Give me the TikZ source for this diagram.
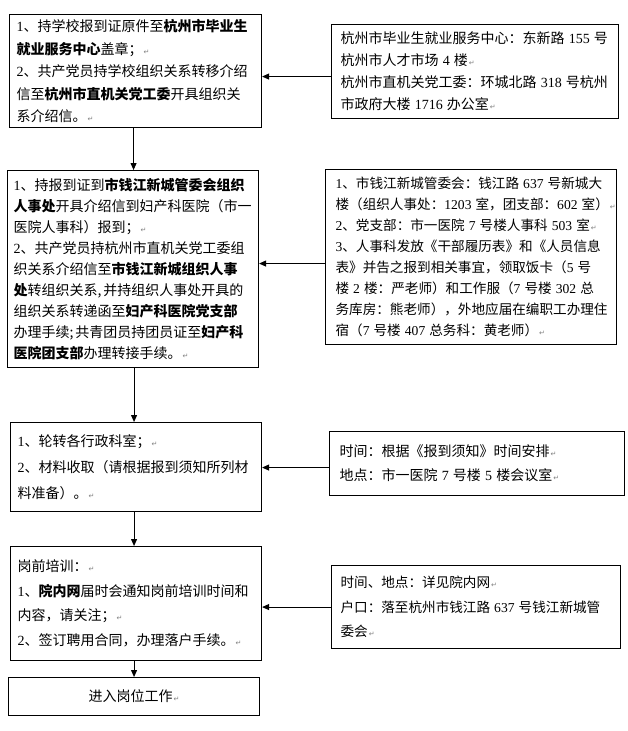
\documentclass[tikz,border=0pt]{standalone}
\usepackage{fontspec}
\setmainfont{Noto Sans CJK SC}
\newfontfamily\latinf{Liberation Serif}
\newfontfamily\symf{DejaVu Sans}
\usetikzlibrary{arrows.meta}
\newcommand\nm[1]{{\latinf #1}}
\newcommand\hs{\kern.3em\relax}
\newcommand\sn[1]{\hs{\latinf #1}\hs}
\newcommand\rmk{{\symf\fontsize{7}{7}\selectfont\color{gray}\kern1pt ↵}}
\tikzset{
  box/.style={draw, line width=1.1pt, anchor=north west, inner xsep=7pt, inner ysep=0pt,
              align=left, font=\fontsize{14}{22}\selectfont},
  arr/.style={line width=0.9pt, -{Triangle[length=7pt,width=6pt]}},
}
\begin{document}
\begin{tikzpicture}[x=1pt,y=-1pt]
\fill[white] (0,0) rectangle (627,731);
\useasboundingbox (0,0) rectangle (627,731);

\node[box, minimum width=252pt, minimum height=113pt, text width=238pt,
      font=\fontsize{14}{22.5}\selectfont] (b1) at (9,14)
{\nm{1}、持学校报到证原件至\textbf{杭州市毕业生}\\
\textbf{就业服务中心}盖章；\rmk\\
\nm{2}、共产党员持学校组织关系转移介绍\\
信至\textbf{杭州市直机关党工委}开具组织关\\
系介绍信。\rmk};

\node[box, minimum width=287pt, minimum height=94pt, inner xsep=9pt, text width=269pt,
      font=\fontsize{14}{22}\selectfont] (r1) at (331,24)
{杭州市毕业生就业服务中心：东新路\sn{155}号\\
杭州市人才市场\sn{4}楼\rmk\\
杭州市直机关党工委：环城北路\sn{318}号杭州\\
市政府大楼\sn{1716}办公室\rmk};

\node[box, minimum width=251pt, minimum height=197pt, inner xsep=6pt, text width=239pt,
      font=\fontsize{14}{21}\selectfont] (b2) at (7,170)
{\nm{1}、持报到证到\textbf{市钱江新城管委会组织}\\
\textbf{人事处}开具介绍信到妇产科医院（市一\\
医院人事科）报到；\rmk\\
\nm{2}、共产党员持杭州市直机关党工委组\\
织关系介绍信至\textbf{市钱江新城组织人事}\\
\textbf{处}转组织关系,\kern2pt 并持组织人事处开具的\\
组织关系转递函至\textbf{妇产科医院党支部}\\
办理手续;\kern2pt 共青团员持团员证至\textbf{妇产科}\\
\textbf{医院团支部}办理转接手续。\rmk};

\node[box, minimum width=291pt, minimum height=175pt, inner xsep=10pt, text width=271pt,
      font=\fontsize{13.6}{21}\selectfont] (r2) at (325,169)
{\nm{1}、市钱江新城管委会：钱江路\sn{637}号新城大\\
楼（组织人事处：\nm{1203}\hs 室，团支部：\nm{602}\hs 室）\rmk\\
\nm{2}、党支部：市一医院\sn{7}号楼人事科\sn{503}室\rmk\\
\nm{3}、人事科发放《干部履历表》和《人员信息\\
表》并告之报到相关事宜，领取饭卡（\nm{5}\hs 号\\
楼\sn{2}楼：严老师）和工作服（\nm{7}\hs 号楼\sn{302}总\\
务库房：熊老师），外地应届在编职工办理住\\
宿（\nm{7}\hs 号楼\sn{407}总务科：黄老师）\rmk};

\node[box, minimum width=251pt, minimum height=89pt, text width=237pt,
      font=\fontsize{14}{26}\selectfont] (b3) at (10,422)
{\nm{1}、轮转各行政科室；\rmk\\
\nm{2}、材料收取（请根据报到须知所列材\\
料准备）。\rmk};

\node[box, minimum width=295pt, minimum height=64pt, inner xsep=10pt, text width=275pt,
      font=\fontsize{14}{24}\selectfont] (r3) at (329,431)
{时间：根据《报到须知》时间安排\rmk\\
地点：市一医院\sn{7}号楼\sn{5}楼会议室\rmk};

\node[box, minimum width=251pt, minimum height=114pt, text width=237pt,
      font=\fontsize{14}{24.5}\selectfont] (b4) at (10,546)
{岗前培训：\rmk\\
\nm{1}、\textbf{院内网}届时会通知岗前培训时间和\\
内容，请关注；\rmk\\
\nm{2}、签订聘用合同，办理落户手续。\rmk};

\node[box, minimum width=289pt, minimum height=83pt, inner xsep=9pt, text width=271pt,
      font=\fontsize{13.6}{24.5}\selectfont] (r4) at (331,565)
{时间、地点：详见院内网\rmk\\
户口：落至杭州市钱江路\sn{637}号钱江新城管\\
委会\rmk};

\node[box, minimum width=251pt, minimum height=38pt, text width=237pt, align=center,
      font=\fontsize{14}{22}\selectfont] (b5) at (8,677)
{进入岗位工作\rmk\\[2pt]};

% vertical flow
\draw[arr] ([xshift=-2pt]b1.south) -- ([xshift=-2pt]b1.south |- b2.north);
\draw[arr] ([xshift=1pt]b2.south) -- ([xshift=1pt]b2.south |- b3.north);
\draw[arr] ([xshift=-2pt]b3.south) -- ([xshift=-2pt]b3.south |- b4.north);
\draw[arr] ([xshift=-2pt]b4.south) -- ([xshift=-2pt]b4.south |- b5.north);

% side info arrows
\draw[arr] ([yshift=-5pt]r1.west) -- ([yshift=-5pt]r1.west -| b1.east);
\draw[arr] ([yshift=-6.5pt]r2.west) -- ([yshift=-6.5pt]r2.west -| b2.east);
\draw[arr] ([yshift=-4pt]r3.west) -- ([yshift=-4pt]r3.west -| b3.east);
\draw[arr] (r4.west) -- (r4.west -| b4.east);
\end{tikzpicture}
\end{document}
